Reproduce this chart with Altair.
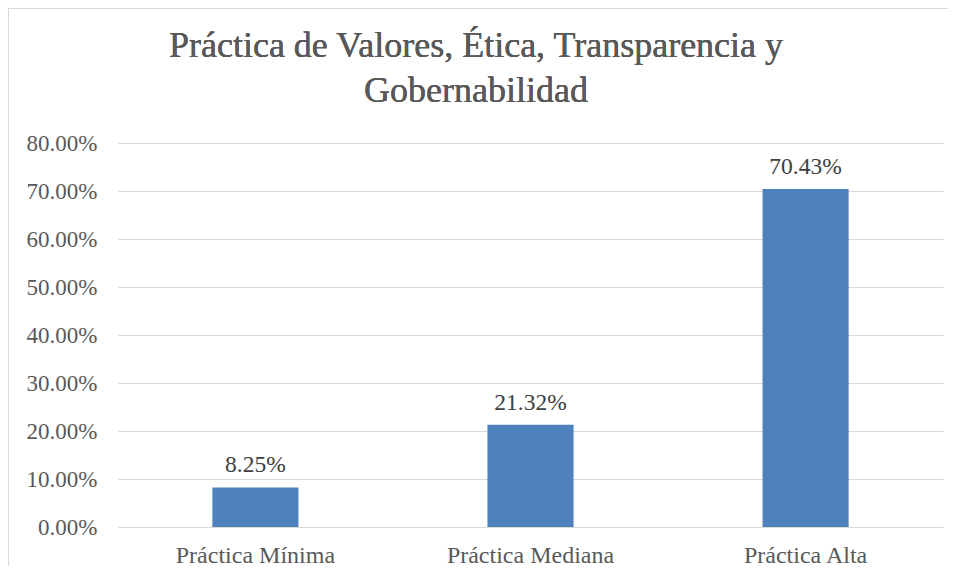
import altair as alt
import pandas as pd

categories = ["Práctica Mínima", "Práctica Mediana", "Práctica Alta"]
values = [0.0825, 0.2132, 0.7043]
labels = ["8.25%", "21.32%", "70.43%"]
title_lines = ["Práctica de Valores, Ética, Transparencia y", "Gobernabilidad"]

df = pd.DataFrame({"cat": categories, "val": values, "lab": labels})

FONT = "Liberation Serif"
W, H = 825, 384

x = alt.X("cat:N", sort=categories, title=None,
          scale=alt.Scale(paddingInner=0.687, paddingOuter=0.343),
          axis=alt.Axis(labelAngle=0, labelFont=FONT, labelFontSize=24,
                        labelColor="#595959", ticks=False, domain=False,
                        labelPadding=16, grid=False))
y = alt.Y("val:Q", title=None,
          scale=alt.Scale(domain=[0, 0.8], nice=False),
          axis=alt.Axis(format=".2%", values=[i / 10 for i in range(9)],
                        labelFont=FONT, labelFontSize=23, labelColor="#595959",
                        ticks=False, domain=False, labelPadding=21,
                        grid=True, gridColor="#d9d9d9", gridWidth=1))

base = alt.Chart(df)

bars = base.mark_bar(color="#4f81bd").encode(x=x, y=y)

text = base.mark_text(font=FONT, fontSize=23.5, color="#404040", dy=-15,
                      baseline="alphabetic", fontWeight="normal").encode(
    x=alt.X("cat:N", sort=categories), y="val:Q", text="lab:N")

border_left = base.mark_rule(stroke="#d9d9d9", strokeWidth=1).encode(
    x=alt.value(-109.5), y=alt.value(-134.5), y2=alt.value(H + 40))
border_top = base.mark_rule(stroke="#d9d9d9", strokeWidth=1).encode(
    x=alt.value(-109.5), x2=alt.value(W + 6), y=alt.value(-134.5))

t1 = base.mark_text(font=FONT, fontSize=36, color="#595959", align="center",
                    baseline="alphabetic", fontWeight="normal").encode(
    x=alt.value(358), y=alt.value(57 - 143), text=alt.value(title_lines[0]))
t2 = base.mark_text(font=FONT, fontSize=36, color="#595959", align="center",
                    baseline="alphabetic", fontWeight="normal").encode(
    x=alt.value(358), y=alt.value(102 - 143), text=alt.value(title_lines[1]))

chart = alt.layer(border_left, border_top, bars, text, t1, t2).properties(
    width=W, height=H,
    autosize=alt.AutoSizeParams(type="none"),
    padding={"left": 110, "top": 135, "right": 5, "bottom": 39},
    background="white",
).configure_view(stroke=None)

chart.save("out.html", embed_options={"renderer": "svg", "actions": False})
